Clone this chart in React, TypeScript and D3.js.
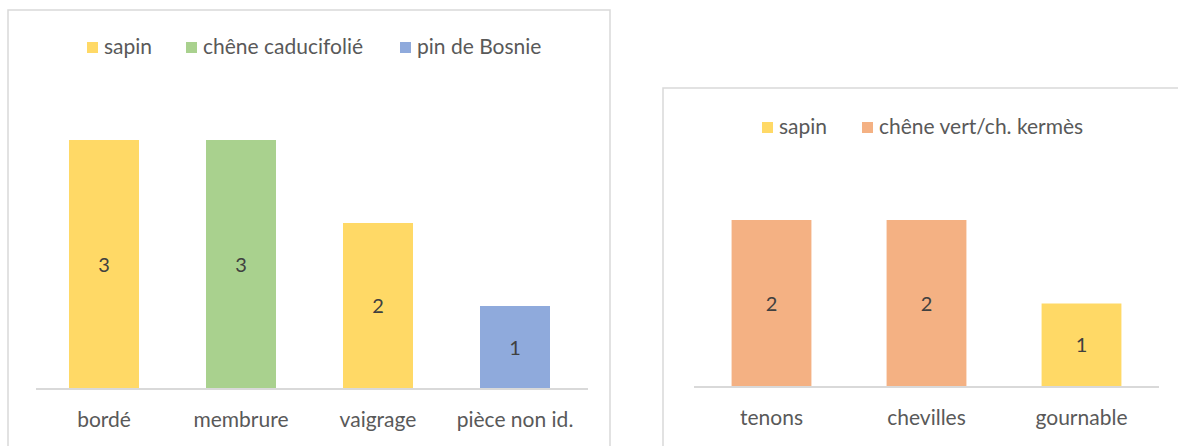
import React from 'react'
import * as d3 from 'd3'

// left chart: structural pieces
const leftCategories = ['bordé', 'membrure', 'vaigrage', 'pièce non id.']
const leftValues = [3, 3, 2, 1]
const leftSpecies = ['sapin', 'chêne caducifolié', 'sapin', 'pin de Bosnie']
const leftLegend = ['sapin', 'chêne caducifolié', 'pin de Bosnie']

// right chart: assembly pieces
const rightCategories = ['tenons', 'chevilles', 'gournable']
const rightValues = [2, 2, 1]
const rightSpecies = ['chêne vert/ch. kermès', 'chêne vert/ch. kermès', 'sapin']
const rightLegend = ['sapin', 'chêne vert/ch. kermès']

const colors: Record<string, string> = {
  'sapin': '#FFD966',
  'chêne caducifolié': '#A9D18E',
  'pin de Bosnie': '#8FAADC',
  'chêne vert/ch. kermès': '#F4B183',
}

const FONT = 'Lato, Carlito, Calibri, sans-serif'
const TEXT = '#595959'

type PanelProps = {
  x: number
  y: number
  w: number
  h: number
  bandLeft: number
  bandRight: number
  axisLeft: number
  axisRight: number
  baseline: number
  unit: number
  barPadding: number
  legendY: number
  legendStart: number
  legendGaps: number[]
  categories: string[]
  values: number[]
  species: string[]
  legend: string[]
}

function Panel(p: PanelProps) {
  const xs = d3.scaleBand<string>()
    .domain(p.categories)
    .range([p.bandLeft, p.bandRight])
    .paddingInner(p.barPadding)
    .paddingOuter(p.barPadding / 2)
  const ys = d3.scaleLinear().domain([0, 1]).range([p.baseline, p.baseline - p.unit])

  let lx = p.legendStart
  return (
    <g>
      <rect x={p.x} y={p.y} width={p.w} height={p.h} fill='#fff' stroke='#D9D9D9' strokeWidth={1.5} />
      {p.legend.map((name, i) => {
        const gx = lx
        lx += p.legendGaps[i] || 0
        return (
          <g key={name} transform={'translate(' + gx + ',' + p.legendY + ')'}>
            <rect x={0} y={-5} width={11} height={11} fill={colors[name]} />
            <text x={17} y={0} dy='0.35em' fontSize={21} fill={TEXT} fontFamily={FONT}>{name}</text>
          </g>
        )
      })}
      {p.categories.map((c, i) => (
        <g key={c}>
          <rect
            x={xs(c)}
            y={ys(p.values[i])}
            width={xs.bandwidth()}
            height={ys(0) - ys(p.values[i])}
            fill={colors[p.species[i]]}
          />
          <text
            x={(xs(c) as number) + xs.bandwidth() / 2}
            y={(ys(0) + ys(p.values[i])) / 2}
            dy='0.35em'
            textAnchor='middle'
            fontSize={20}
            fill='#404040'
            fontFamily={FONT}
          >{p.values[i]}</text>
          <text
            x={(xs(c) as number) + xs.bandwidth() / 2}
            y={p.baseline + 31}
            dy='0.35em'
            textAnchor='middle'
            fontSize={21}
            fill={TEXT}
            fontFamily={FONT}
          >{c}</text>
        </g>
      ))}
      <line x1={p.axisLeft} x2={p.axisRight} y1={p.baseline} y2={p.baseline} stroke='#D9D9D9' strokeWidth={2} />
    </g>
  )
}

export default function App() {
  return (
    <svg width={1178} height={446} style={{ position: 'absolute', left: 0, top: 0, background: '#fff' }}>
      <Panel
        x={8} y={10} w={602} h={460}
        bandLeft={35.5} bandRight={583.5} axisLeft={36} axisRight={588}
        baseline={389} unit={83}
        barPadding={0.489}
        legendY={47} legendStart={87} legendGaps={[99, 214]}
        categories={leftCategories} values={leftValues} species={leftSpecies} legend={leftLegend}
      />
      <Panel
        x={663} y={88} w={530} h={380}
        bandLeft={694} bandRight={1159} axisLeft={694} axisRight={1159}
        baseline={387} unit={83.5}
        barPadding={0.485}
        legendY={127} legendStart={762} legendGaps={[100]}
        categories={rightCategories} values={rightValues} species={rightSpecies} legend={rightLegend}
      />
    </svg>
  )
}
